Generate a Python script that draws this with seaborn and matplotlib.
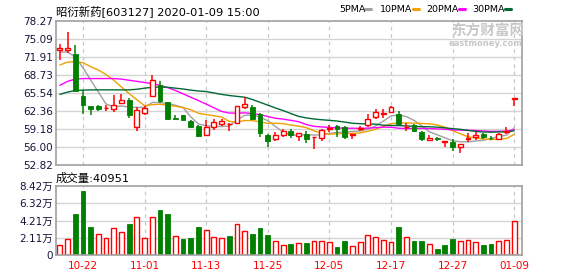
import numpy as np
import pandas as pd
import matplotlib
matplotlib.use("Agg")
import matplotlib.pyplot as plt
import seaborn as sns
from matplotlib.lines import Line2D

dates = ["10-17", "10-18", "10-21", "10-22", "10-23", "10-24", "10-25", "10-28", "10-29", "10-30", "10-31",
         "11-01", "11-04", "11-05", "11-06", "11-07", "11-08", "11-11", "11-12", "11-13", "11-14", "11-15",
         "11-18", "11-19", "11-20", "11-21", "11-22", "11-25", "11-26", "11-27", "11-28", "11-29",
         "12-02", "12-03", "12-04", "12-05", "12-06", "12-09", "12-10", "12-11", "12-12", "12-13",
         "12-16", "12-17", "12-18", "12-19", "12-20", "12-23", "12-24", "12-25", "12-26", "12-27",
         "12-30", "12-31", "01-02", "01-03", "01-06", "01-07", "01-08", "01-09"]

open_ = [73.07, 73.19, 72.48, 65.04, 63.27, 63.30, 62.85, 62.68, 63.86, 64.33,
         59.61, 62.09, 65.04, 66.99, 63.98, 61.10, 61.62, 60.67, 59.73, 58.19,
         59.49, 60.08, 59.98, 60.20, 63.03, 63.03, 61.85, 58.07, 57.36, 58.19,
         58.90, 57.95, 58.31, 57.72, 57.60, 59.14, 59.73, 59.49, 58.07, 59.14,
         59.84, 61.38, 61.90, 62.21, 61.85, 59.50, 59.84, 58.66, 57.25, 57.50,
         56.95, 56.89, 55.95, 57.40, 57.84, 58.31, 57.60, 57.48, 58.65, 64.57]
high = [74.20, 76.30, 74.07, 66.10, 63.27, 63.39, 63.50, 65.16, 65.40, 64.68,
        63.03, 63.27, 68.76, 67.64, 63.98, 61.66, 61.73, 60.79, 59.84, 60.79,
        60.91, 61.02, 60.20, 63.27, 64.80, 63.39, 61.97, 58.31, 58.66, 59.25,
        59.14, 58.43, 58.78, 57.80, 59.14, 59.96, 59.96, 59.73, 58.31, 59.73,
        61.85, 62.68, 62.68, 63.27, 62.44, 60.32, 60.08, 58.78, 58.19, 57.84,
        57.00, 57.36, 56.54, 58.43, 58.66, 58.40, 57.90, 58.55, 59.49, 64.57]
low = [71.42, 72.60, 65.90, 61.85, 61.73, 62.44, 62.44, 62.20, 63.86, 61.14,
       58.90, 61.73, 64.80, 63.86, 60.79, 60.90, 60.70, 59.49, 57.84, 58.07,
       59.02, 59.73, 58.90, 60.08, 62.80, 60.79, 57.84, 56.07, 57.01, 57.72,
       57.60, 57.01, 56.66, 55.60, 57.01, 58.66, 57.72, 57.48, 57.48, 58.78,
       59.49, 60.91, 61.14, 62.09, 59.96, 58.90, 58.66, 57.13, 57.01, 57.13,
       55.95, 55.24, 55.00, 56.90, 57.25, 57.40, 57.25, 57.36, 58.31, 63.30]
close = [73.55, 73.49, 65.98, 63.50, 62.80, 62.80, 62.90, 63.50, 64.33, 61.73,
         62.56, 62.91, 67.81, 64.21, 61.02, 61.00, 60.79, 59.61, 57.95, 59.49,
         60.43, 60.55, 60.10, 63.27, 63.62, 60.91, 58.43, 57.13, 58.07, 58.78,
         58.07, 58.43, 57.48, 57.78, 59.02, 59.37, 59.25, 57.84, 58.31, 59.37,
         60.91, 62.21, 62.00, 63.03, 60.08, 59.60, 58.78, 57.36, 57.60, 57.45,
         57.00, 56.07, 56.54, 57.50, 58.19, 57.72, 57.55, 58.31, 58.70, 64.57]

ma5 = [72.78, 72.78, 71.90, 70.00, 67.85, 65.71, 63.60, 63.10, 63.27, 63.05,
       63.00, 63.01, 63.87, 63.84, 63.70, 63.39, 62.97, 61.33, 60.07, 59.77,
       59.65, 59.61, 59.70, 60.77, 61.59, 61.69, 61.27, 60.67, 59.63, 58.66,
       58.10, 58.10, 58.17, 58.11, 58.16, 58.42, 58.58, 58.65, 58.76, 58.83,
       59.14, 59.73, 60.56, 61.50, 61.65, 61.38, 60.70, 59.77, 58.68, 58.16,
       57.64, 57.10, 56.93, 56.91, 57.06, 57.20, 57.50, 57.85, 58.09, 59.37]
ma10 = [70.50, 71.00, 71.10, 70.90, 70.20, 69.60, 68.80, 67.80, 66.60, 65.45,
        64.36, 63.30, 63.48, 63.56, 63.38, 63.20, 62.99, 62.60, 61.96, 61.74,
        61.52, 61.29, 60.52, 60.42, 60.68, 60.67, 60.44, 60.19, 60.20, 60.13,
        59.89, 59.68, 59.42, 58.87, 58.41, 58.26, 58.34, 58.41, 58.43, 58.49,
        58.78, 59.15, 59.61, 60.13, 60.24, 60.26, 60.21, 60.17, 60.09, 59.90,
        59.51, 58.90, 58.35, 57.80, 57.61, 57.42, 57.30, 57.39, 57.50, 58.22]
ma20 = [66.90, 67.60, 68.00, 68.10, 68.10, 68.10, 68.10, 68.10, 68.00, 67.80,
        67.60, 67.40, 67.20, 66.90, 66.50, 66.00, 65.40, 64.80, 64.20, 63.59,
        62.94, 62.29, 62.00, 61.99, 62.03, 61.93, 61.71, 61.39, 61.08, 60.93,
        60.71, 60.48, 59.97, 59.65, 59.55, 59.46, 59.39, 59.30, 59.32, 59.31,
        59.33, 59.42, 59.51, 59.50, 59.32, 59.26, 59.28, 59.29, 59.26, 59.20,
        59.14, 59.03, 58.98, 58.96, 58.92, 58.84, 58.76, 58.78, 58.80, 59.06]
ma30 = [65.30, 65.70, 66.00, 66.05, 66.10, 66.10, 66.10, 66.10, 66.10, 66.10,
        66.20, 66.40, 66.55, 66.60, 66.55, 66.40, 66.25, 66.05, 65.90, 65.80,
        65.55, 65.30, 65.10, 64.95, 64.80, 64.40, 63.90, 63.40, 62.90, 62.44,
        61.92, 61.42, 61.14, 60.95, 60.82, 60.71, 60.59, 60.40, 60.20, 60.12,
        60.06, 60.04, 59.85, 59.81, 59.78, 59.73, 59.66, 59.59, 59.58, 59.51,
        59.39, 59.24, 59.13, 58.93, 58.75, 58.65, 58.62, 58.66, 58.68, 58.87]

# volume in 万 shares
volume = [1.26, 1.95, 5.04, 7.85, 3.46, 2.56, 2.07, 3.29, 2.80, 3.82,
          4.63, 2.07, 4.63, 5.53, 5.04, 2.32, 1.99, 2.11, 3.46, 3.05,
          2.20, 2.07, 2.36, 3.82, 2.93, 2.60, 3.33, 2.48, 1.71, 1.22,
          1.38, 1.50, 1.50, 1.75, 1.75, 1.63, 1.02, 1.75, 1.14, 1.63,
          2.48, 2.24, 1.87, 1.63, 3.46, 2.24, 1.67, 1.67, 1.38, 0.77,
          1.26, 1.99, 1.75, 1.87, 1.63, 1.26, 1.38, 1.75, 1.87, 4.0951]
vol_up = "RRGGGRRRRGRRRGGRGGGRRRGRRGGGRRGRGRRRGGRRRRRRGRGGRGGGRRRGGRRR"

price_ticks = [52.82, 56.00, 59.18, 62.36, 65.54, 68.73, 71.91, 75.09, 78.27]
vol_ticks = [0, 2.11, 4.21, 6.32, 8.42]
vol_labels = ["0", "2.11万", "4.21万", "6.32万", "8.42万"]
label_dates = ["10-22", "11-01", "11-13", "11-25", "12-05", "12-17", "12-27", "01-09"]

sns.set_theme(style="white")
plt.rcParams["font.family"] = ["DejaVu Sans", "Noto Sans CJK SC"]

RED = "#ff0000"
GREEN = "#008000"
GRID = "#d4d4d4"
FRAME = "#a0a0a0"
TICK = "#14143c"

fig = plt.figure(figsize=(5.78, 2.76), dpi=100)
W, H = 578, 276
ax = fig.add_axes([56 / W, (H - 165) / H, 466 / W, 144 / H])
axv = fig.add_axes([56 / W, (H - 255) / H, 466 / W, 69 / H])

idx = np.arange(len(dates))
tick_pos = [dates.index(d) for d in label_dates]

for a in (ax, axv):
    a.set_xlim(-0.5, 60.02)
    for s in a.spines.values():
        s.set_color(FRAME)
        s.set_linewidth(1.2)
    for t in tick_pos:
        a.axvline(t, color="#c8c8c8", lw=0.9, ls=(0, (3, 3)), zorder=0)
    a.tick_params(length=0, pad=2, labelsize=7.5, colors=TICK)

# price panel
ax.set_ylim(52.82, 78.27)
ax.set_yticks(price_ticks)
ax.set_yticklabels([f"{v:.2f}" for v in price_ticks])
for v in price_ticks[1:-1]:
    ax.axhline(v, color=GRID, lw=1, zorder=0)
ax.set_xticks([])

o = np.array(open_)
c = np.array(close)
up = c >= o
cols = np.where(up, RED, GREEN)
ax.vlines(idx, low, high, colors=cols, lw=1.1, zorder=2)
body_h = np.maximum(np.abs(c - o), 0.12)
body_b = np.minimum(o, c)
ax.bar(idx[up], body_h[up], bottom=body_b[up], width=0.62, color="white",
       edgecolor=RED, linewidth=1.0, zorder=3)
ax.bar(idx[~up], body_h[~up], bottom=body_b[~up], width=0.62, color=GREEN,
       edgecolor=GREEN, linewidth=0.6, zorder=3)

ma = pd.DataFrame({"idx": idx, "5PMA": ma5, "10PMA": ma10, "20PMA": ma20, "30PMA": ma30})
ma_long = ma.melt(id_vars="idx", var_name="line", value_name="price")
ma_colors = {"5PMA": "#a0a0a0", "10PMA": "#f0a000", "20PMA": "#ff00ff", "30PMA": "#006a35"}
sns.lineplot(data=ma_long, x="idx", y="price", hue="line", palette=ma_colors,
             legend=False, lw=1.0, ax=ax, zorder=1)
ax.set_xlabel("")
ax.set_ylabel("")

# volume panel
axv.set_ylim(0, 8.42)
axv.set_yticks(vol_ticks)
axv.set_yticklabels(vol_labels)
for v in vol_ticks[1:-1]:
    axv.axhline(v, color=GRID, lw=1, zorder=0)
vu = np.array([ch == "R" for ch in vol_up])
vol = np.array(volume)
axv.bar(idx[vu], vol[vu], width=0.62, color="white", edgecolor=RED, linewidth=1.0, zorder=2)
axv.bar(idx[~vu], vol[~vu], width=0.62, color=GREEN, edgecolor=GREEN, linewidth=0.6, zorder=2)
axv.set_xticks(tick_pos)
axv.set_xticklabels(label_dates, color=RED)
axv.tick_params(axis="x", pad=4)

# texts
fig.text(56 / W, 1 - 11 / H, "昭衍新药[603127] 2020-01-09 15:00", fontsize=8.2,
         color="black", va="center", ha="left")
fig.text(56 / W, 1 - 178 / H, "成交量:40951", fontsize=8.2, color="black", va="center", ha="left")

legend_items = [("5PMA", 339, 365, "#a0a0a0"), ("10PMA", 380, 413, "#f0a000"),
                ("20PMA", 426, 459, "#ff00ff"), ("30PMA", 472, 505, "#006a35")]
for name, tx, lx, col in legend_items:
    fig.text(tx / W, 1 - 9 / H, name, fontsize=6.8, color="black", va="center", ha="left")
    fig.add_artist(Line2D([lx / W, (lx + 6) / W], [1 - 9 / H, 1 - 9 / H], color=col, lw=2.2))

fig.text(451 / W, 1 - 31 / H, "东方财富网", fontsize=10.5, color="#c8c8c8", fontweight="bold",
         family=["Noto Sans CJK SC", "DejaVu Sans"], va="center", ha="left", zorder=0)
fig.text(449 / W, 1 - 43 / H, "eastmoney.com", fontsize=6, color="#c8c8c8", fontweight="bold",
         va="center", ha="left", zorder=0)

plt.savefig("out.png", dpi=100)
